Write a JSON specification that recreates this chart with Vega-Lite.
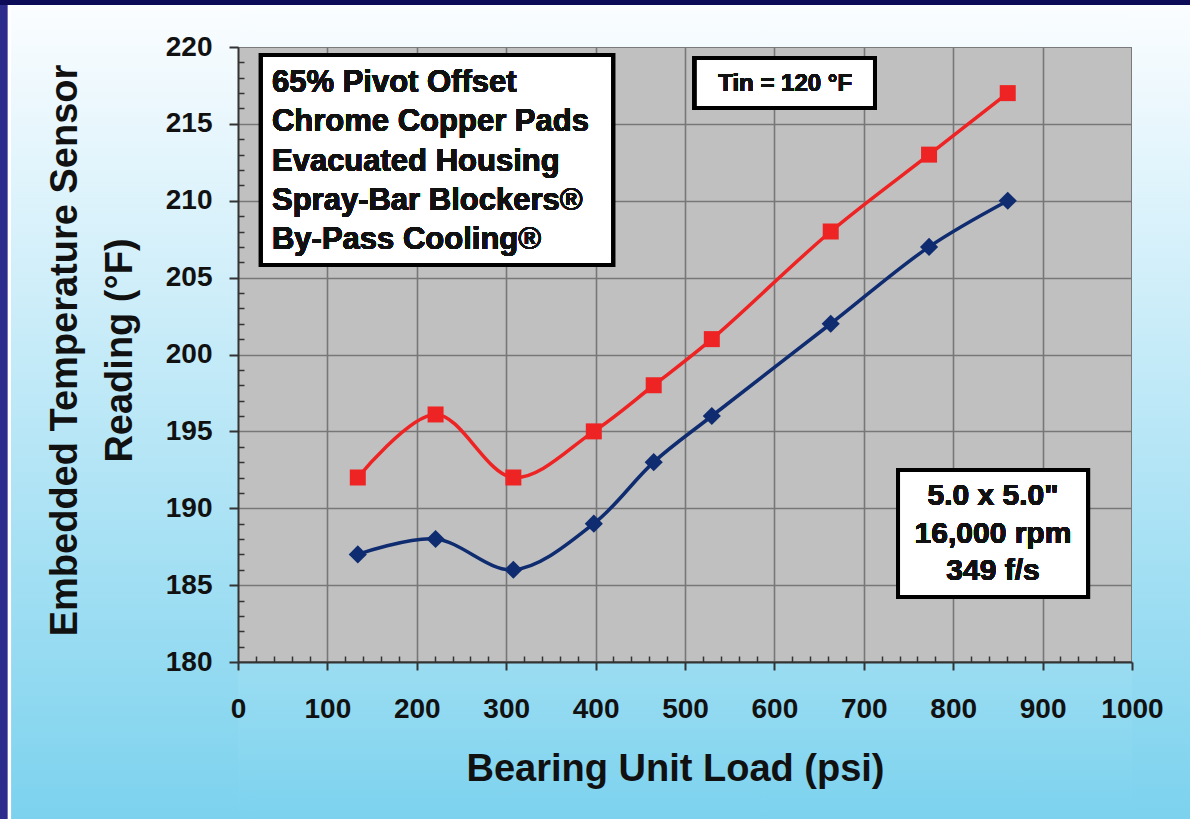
{
  "$schema": "https://vega.github.io/schema/vega-lite/v6.json",
  "width": 894,
  "height": 615,
  "autosize": {"type": "none"},
  "padding": {"left": 238, "top": 47, "right": 58, "bottom": 157},
  "background": "#2b2c8c",
  "config": {
    "view": {"fill": "#c0c0c0", "stroke": "#7a7a7a", "strokeWidth": 2},
    "font": "Liberation Sans"
  },
  "data": {
    "values": [
      {"series": "Red", "load": 134, "temp": 192},
      {"series": "Red", "load": 221, "temp": 196.1},
      {"series": "Red", "load": 308, "temp": 192},
      {"series": "Red", "load": 398, "temp": 195},
      {"series": "Red", "load": 465, "temp": 198},
      {"series": "Red", "load": 530, "temp": 201},
      {"series": "Red", "load": 663, "temp": 208},
      {"series": "Red", "load": 773, "temp": 213},
      {"series": "Red", "load": 861, "temp": 217},
      {"series": "Blue", "load": 134, "temp": 187},
      {"series": "Blue", "load": 221, "temp": 188},
      {"series": "Blue", "load": 308, "temp": 186},
      {"series": "Blue", "load": 398, "temp": 189},
      {"series": "Blue", "load": 465, "temp": 193},
      {"series": "Blue", "load": 530, "temp": 196},
      {"series": "Blue", "load": 663, "temp": 202},
      {"series": "Blue", "load": 773, "temp": 207},
      {"series": "Blue", "load": 861, "temp": 210}
    ]
  },
  "resolve": {"axis": {"x": "independent", "y": "independent"}},
  "layer": [
    {
      "mark": {"type": "rect", "fill": {"gradient": "linear", "x1": 0, "y1": 0, "x2": 0, "y2": 1, "stops": [{"offset": 0, "color": "#fbfdff"}, {"offset": 1, "color": "#7cd2ee"}]}},
      "encoding": {
        "x": {"datum": -253.9, "type": "quantitative", "scale": {"domain": [0, 1000], "nice": false, "zero": false},
          "axis": {"orient": "bottom", "grid": true, "gridColor": "#777777", "gridWidth": 1.6, "labels": false, "ticks": false, "domain": false, "title": null, "values": [100, 200, 300, 400, 500, 600, 700, 800, 900], "zindex": 0}},
        "x2": {"datum": 0},
        "y": {"datum": 222.732, "type": "quantitative", "scale": {"domain": [180, 220], "nice": false, "zero": false},
          "axis": {"orient": "left", "grid": true, "gridColor": "#777777", "gridWidth": 1.6, "labels": false, "ticks": false, "domain": false, "title": null, "values": [185, 190, 195, 200, 205, 210, 215], "zindex": 0}},
        "y2": {"datum": 169.789}
      }
    },
    {
      "mark": {"type": "rect", "fill": {"gradient": "linear", "x1": 0, "y1": 0, "x2": 0, "y2": 1, "stops": [{"offset": 0, "color": "#fbfdff"}, {"offset": 1, "color": "#7cd2ee"}]}},
      "encoding": {
        "x": {"datum": 1000, "type": "quantitative", "scale": {"domain": [0, 1000], "nice": false, "zero": false}, "axis": null},
        "x2": {"datum": 1070},
        "y": {"datum": 222.732, "type": "quantitative", "scale": {"domain": [180, 220], "nice": false, "zero": false}, "axis": null},
        "y2": {"datum": 169.789}
      }
    },
    {
      "mark": {"type": "rect", "fill": {"gradient": "linear", "x1": 0, "y1": 0, "x2": 0, "y2": 1, "stops": [{"offset": 0, "color": "#fbfdff"}, {"offset": 1, "color": "#f4fbfe"}]}},
      "encoding": {
        "x": {"datum": 0, "type": "quantitative", "scale": {"domain": [0, 1000], "nice": false, "zero": false}, "axis": null},
        "x2": {"datum": 1000},
        "y": {"datum": 222.732, "type": "quantitative", "scale": {"domain": [180, 220], "nice": false, "zero": false}, "axis": null},
        "y2": {"datum": 220}
      }
    },
    {
      "mark": {"type": "rect", "fill": {"gradient": "linear", "x1": 0, "y1": 0, "x2": 0, "y2": 1, "stops": [{"offset": 0, "color": "#9bddf2"}, {"offset": 1, "color": "#7cd2ee"}]}},
      "encoding": {
        "x": {"datum": 0, "type": "quantitative", "scale": {"domain": [0, 1000], "nice": false, "zero": false}, "axis": null},
        "x2": {"datum": 1000},
        "y": {"datum": 180, "type": "quantitative", "scale": {"domain": [180, 220], "nice": false, "zero": false}, "axis": null},
        "y2": {"datum": 169.789}
      }
    },
    {
      "mark": {"type": "rect", "fill": "#0c0b57"},
      "encoding": {
        "x": {"datum": -270, "type": "quantitative", "scale": {"domain": [0, 1000], "nice": false, "zero": false}, "axis": null},
        "x2": {"datum": 1070},
        "y": {"datum": 223.1, "type": "quantitative", "scale": {"domain": [180, 220], "nice": false, "zero": false}, "axis": null},
        "y2": {"datum": 222.732}
      }
    },
    {
      "mark": {"type": "rect", "fill": "#ffffff"},
      "encoding": {
        "x": {"datum": -257.3, "type": "quantitative", "scale": {"domain": [0, 1000], "nice": false, "zero": false}, "axis": null},
        "x2": {"datum": -253.9},
        "y": {"datum": 222.732, "type": "quantitative", "scale": {"domain": [180, 220], "nice": false, "zero": false}, "axis": null},
        "y2": {"datum": 169.789}
      }
    },
    {
      "mark": {"type": "line", "interpolate": "catmull-rom", "strokeWidth": 3.5},
      "encoding": {
        "x": {"field": "load", "type": "quantitative", "scale": {"domain": [0, 1000], "nice": false, "zero": false},
          "axis": {"orient": "bottom", "grid": false, "format": "d", "values": [0, 100, 200, 300, 400, 500, 600, 700, 800, 900, 1000], "labelFont": "Liberation Sans", "labelFontWeight": "bold", "labelFontSize": 28, "labelColor": "#111111", "labelFlush": false, "labelOverlap": false, "tickSize": 8, "tickWidth": 2, "tickColor": "#333333", "domainColor": "#333333", "domainWidth": 2, "labelPadding": 25,
            "title": "Bearing Unit Load (psi)", "titleFont": "Liberation Sans", "titleFontWeight": "bold", "titleFontSize": 38, "titleColor": "#111111", "titleX": 437, "titleY": 118, "titleBaseline": "alphabetic", "titleAlign": "center", "zindex": 1}},
        "y": {"field": "temp", "type": "quantitative", "scale": {"domain": [180, 220], "nice": false, "zero": false},
          "axis": {"orient": "left", "grid": false, "values": [180, 185, 190, 195, 200, 205, 210, 215, 220], "labelFont": "Liberation Sans", "labelFontWeight": "bold", "labelFontSize": 28, "labelColor": "#111111", "labelFlush": false, "labelOverlap": false, "tickSize": 9, "tickWidth": 2, "tickColor": "#333333", "domainColor": "#333333", "domainWidth": 2, "labelPadding": 17,
            "title": ["Embedded Temperature Sensor", "Reading (°F)"], "titleFont": "Liberation Sans", "titleFontWeight": "bold", "titleFontSize": 38, "titleColor": "#111111", "titleLineHeight": 55, "titleAngle": 270, "titleX": -172.5, "titleY": 303, "titleBaseline": "middle", "titleAlign": "center", "zindex": 1}},
        "color": {"field": "series", "type": "nominal", "scale": {"domain": ["Red", "Blue"], "range": ["#ee2424", "#0f2c70"]}, "legend": null}
      }
    },
    {
      "mark": {"type": "point", "filled": true, "opacity": 1},
      "encoding": {
        "x": {"field": "load", "type": "quantitative", "scale": {"domain": [0, 1000], "nice": false, "zero": false},
          "axis": {"orient": "bottom", "grid": false, "labels": false, "domain": false, "title": null, "tickSize": -6, "tickWidth": 1.5, "tickColor": "#333333", "zindex": 1,
            "values": [20, 40, 60, 80, 120, 140, 160, 180, 220, 240, 260, 280, 320, 340, 360, 380, 420, 440, 460, 480, 520, 540, 560, 580, 620, 640, 660, 680, 720, 740, 760, 780, 820, 840, 860, 880, 920, 940, 960, 980]}},
        "y": {"field": "temp", "type": "quantitative", "scale": {"domain": [180, 220], "nice": false, "zero": false},
          "axis": {"orient": "left", "grid": false, "labels": false, "domain": false, "title": null, "tickSize": -6, "tickWidth": 1.5, "tickColor": "#333333", "zindex": 1,
            "values": [181, 182, 183, 184, 186, 187, 188, 189, 191, 192, 193, 194, 196, 197, 198, 199, 201, 202, 203, 204, 206, 207, 208, 209, 211, 212, 213, 214, 216, 217, 218, 219]}},
        "color": {"field": "series", "type": "nominal", "scale": {"domain": ["Red", "Blue"], "range": ["#ee2424", "#0f2c70"]}, "legend": null},
        "shape": {"field": "series", "type": "nominal", "scale": {"domain": ["Red", "Blue"], "range": ["square", "diamond"]}, "legend": null},
        "size": {"field": "series", "type": "nominal", "scale": {"domain": ["Red", "Blue"], "range": [256, 330]}, "legend": null}
      }
    },
    {
      "mark": {"type": "rect", "fill": "#ffffff", "stroke": "#000000", "strokeWidth": 4},
      "encoding": {
        "x": {"datum": 25.7, "type": "quantitative", "scale": {"domain": [0, 1000], "nice": false, "zero": false}, "axis": null},
        "x2": {"datum": 419.5},
        "y": {"datum": 219.48, "type": "quantitative", "scale": {"domain": [180, 220], "nice": false, "zero": false}, "axis": null},
        "y2": {"datum": 205.82}
      }
    },
    {
      "mark": {"type": "rect", "fill": "#ffffff", "stroke": "#000000", "strokeWidth": 4},
      "encoding": {
        "x": {"datum": 511, "type": "quantitative", "scale": {"domain": [0, 1000], "nice": false, "zero": false}, "axis": null},
        "x2": {"datum": 712.5},
        "y": {"datum": 219.28, "type": "quantitative", "scale": {"domain": [180, 220], "nice": false, "zero": false}, "axis": null},
        "y2": {"datum": 216.03}
      }
    },
    {
      "mark": {"type": "rect", "fill": "#ffffff", "stroke": "#000000", "strokeWidth": 4},
      "encoding": {
        "x": {"datum": 738.3, "type": "quantitative", "scale": {"domain": [0, 1000], "nice": false, "zero": false}, "axis": null},
        "x2": {"datum": 950.8},
        "y": {"datum": 192.49, "type": "quantitative", "scale": {"domain": [180, 220], "nice": false, "zero": false}, "axis": null},
        "y2": {"datum": 184.23}
      }
    },
    {
      "mark": {"type": "text", "text": ["65% Pivot Offset", "Chrome Copper Pads", "Evacuated Housing", "Spray-Bar Blockers®", "By-Pass Cooling®"], "align": "left", "baseline": "alphabetic", "font": "Liberation Sans", "fontWeight": "bold", "fontSize": 31, "lineHeight": 39.3, "color": "#111111"},
      "encoding": {
        "x": {"datum": 38, "type": "quantitative", "scale": {"domain": [0, 1000], "nice": false, "zero": false}, "axis": null},
        "y": {"datum": 217.07, "type": "quantitative", "scale": {"domain": [180, 220], "nice": false, "zero": false}, "axis": null}
      }
    },
    {
      "mark": {"type": "text", "text": "Tin = 120 °F", "align": "center", "baseline": "middle", "font": "Liberation Sans", "fontWeight": "bold", "fontSize": 24, "color": "#111111"},
      "encoding": {
        "x": {"datum": 612, "type": "quantitative", "scale": {"domain": [0, 1000], "nice": false, "zero": false}, "axis": null},
        "y": {"datum": 217.6, "type": "quantitative", "scale": {"domain": [180, 220], "nice": false, "zero": false}, "axis": null}
      }
    },
    {
      "mark": {"type": "text", "text": ["5.0 x 5.0\"", "16,000 rpm", "349 f/s"], "align": "center", "baseline": "alphabetic", "font": "Liberation Sans", "fontWeight": "bold", "fontSize": 30, "lineHeight": 37.5, "color": "#111111"},
      "encoding": {
        "x": {"datum": 844.5, "type": "quantitative", "scale": {"domain": [0, 1000], "nice": false, "zero": false}, "axis": null},
        "y": {"datum": 190.21, "type": "quantitative", "scale": {"domain": [180, 220], "nice": false, "zero": false}, "axis": null}
      }
    }
  ]
}
